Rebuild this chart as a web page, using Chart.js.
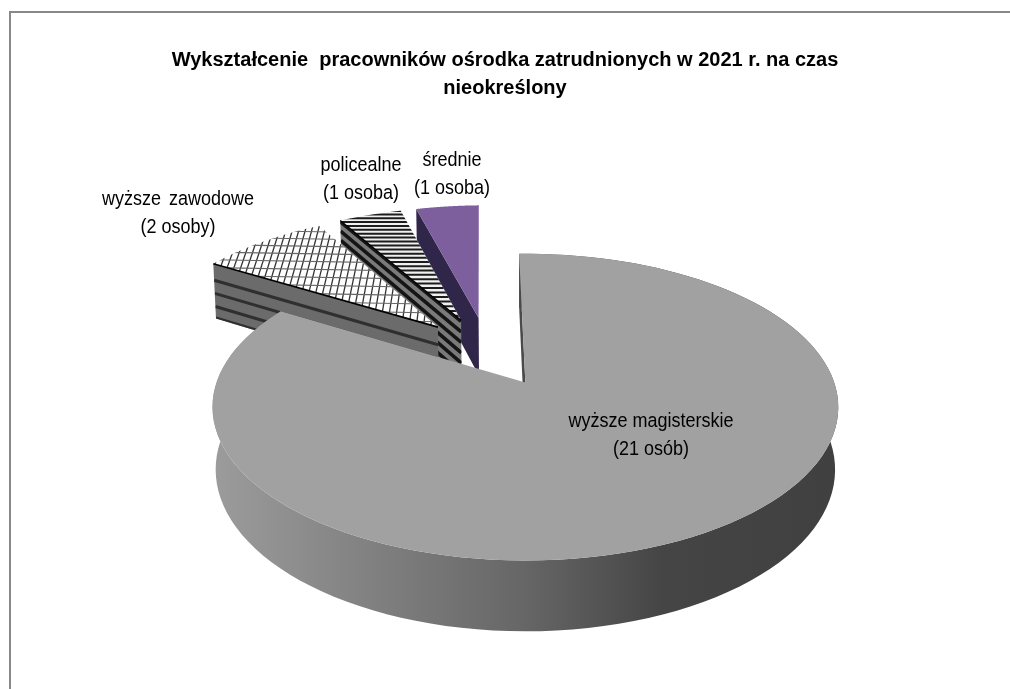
<!DOCTYPE html>
<html lang="pl">
<head>
<meta charset="utf-8">
<title>Wykształcenie pracowników</title>
<script src="https://cdn.jsdelivr.net/npm/chart.js@4/dist/chart.umd.min.js"></script>
<style>
  html, body { margin: 0; padding: 0; background: #fff; }
  canvas { display: block; }
</style>
</head>
<body>
<canvas id="wykres" width="1010" height="689"></canvas>
<script>
const kategorie = ["wyższe magisterskie", "wyższe zawodowe", "policealne", "średnie"];
const opisy = ["(21 osób)", "(2 osoby)", "(1 osoba)", "(1 osoba)"];
const liczbaOsob = [21, 2, 1, 1];
const tytul = [
  "Wykształcenie  pracowników ośrodka zatrudnionych w 2021 r. na czas",
  "nieokreślony",
];

// kolejnosc rysowania: od tylu do przodu
const kolejnosc = [3, 2, 1, 0];
// srodki podpisow na obrazku
const podpisyX = [651, 178, 361, 452];
const podpisyY = [421, 199, 165, 160];

// parametry rzutu 3D (talerz w perspektywie)
const X0 = 524, Y0 = 383, SKALA_X = 309, SKALA_Y = 149.6;
const PERSP = 0.16, ZWEZENIE = 0.01, GLEBOKOSC = 62;
const SRODEK_U = -0.121, SRODEK_V = 0.219, WYSUNIECIE = 0.25;

function rzut(u, v, d) {
  const pu = u + SRODEK_U;
  const pv = v + SRODEK_V;
  const w = 1 + PERSP * pv + ZWEZENIE * d;
  return { x: X0 + (SKALA_X * pu) / w, y: Y0 + (GLEBOKOSC * d - SKALA_Y * pv) / w };
}

function punkt(arc, kat, r, d) {
  const sr = (arc.startAngle + arc.endAngle) / 2;
  const u = WYSUNIECIE * Math.cos(sr) + r * Math.cos(kat);
  const v = -(WYSUNIECIE * Math.sin(sr) + r * Math.sin(kat));
  return rzut(u, v, d);
}

function sciezka(ctx, pkt) {
  ctx.beginPath();
  pkt.forEach((p, i) => (i ? ctx.lineTo(p.x, p.y) : ctx.moveTo(p.x, p.y)));
  ctx.closePath();
}

function lukPunkty(arc, d) {
  const pkt = [];
  const n = 120;
  for (let i = 0; i <= n; i++) {
    const kat = arc.startAngle + ((arc.endAngle - arc.startAngle) * i) / n;
    pkt.push(punkt(arc, kat, 1, d));
  }
  return pkt;
}

function kreska(ctx, a, b, kolor, grubosc) {
  ctx.strokeStyle = kolor;
  ctx.lineWidth = grubosc;
  ctx.beginPath();
  ctx.moveTo(a.x, a.y);
  ctx.lineTo(b.x, b.y);
  ctx.stroke();
}

// sciana od strony poczatku wycinka
function sciana(ctx, arc, kolor, paski, kolorPaska, grubosc) {
  const k = arc.startAngle;
  sciezka(ctx, [punkt(arc, k, 1, 0), punkt(arc, k, 0, 0), punkt(arc, k, 0, 1), punkt(arc, k, 1, 1)]);
  ctx.fillStyle = kolor;
  ctx.fill();
  ctx.save();
  ctx.clip();
  paski.forEach((f) => kreska(ctx, punkt(arc, k, 1, f), punkt(arc, k, 0, f), kolorPaska, grubosc));
  ctx.restore();
}

function wierzch(ctx, arc) {
  sciezka(ctx, [punkt(arc, arc.startAngle, 0, 0)].concat(lukPunkty(arc, 0)));
}

function rysujMagisterskie(ctx, arc) {
  const gora = lukPunkty(arc, 0);
  const dol = lukPunkty(arc, 1).reverse();
  const grad = ctx.createLinearGradient(212, 0, 838, 0);
  grad.addColorStop(0, "#9c9c9c");
  grad.addColorStop(0.5, "#666666");
  grad.addColorStop(0.72, "#454545");
  grad.addColorStop(1, "#404040");
  sciezka(ctx, gora.concat(dol));
  ctx.fillStyle = grad;
  ctx.fill();
  sciana(ctx, arc, "#4a4a4a", [], "#000", 0);
  wierzch(ctx, arc);
  ctx.fillStyle = "#a1a1a1";
  ctx.fill();
}

function rysujZawodowe(ctx, arc) {
  sciana(ctx, arc, "#6b6b6b", [0.3, 0.54, 0.78, 0.99], "#2f2f2f", 3);
  wierzch(ctx, arc);
  ctx.fillStyle = "#ffffff";
  ctx.fill();
  ctx.save();
  ctx.clip();
  for (let u = -1.6; u < 0.4; u += 0.025) {
    kreska(ctx, rzut(u, -0.6, 0), rzut(u, 1.6, 0), "#333333", 1.3);
  }
  for (let v = -0.6; v < 1.6; v += 0.068) {
    kreska(ctx, rzut(-1.6, v + 0.06, 0), rzut(0.4, v - 0.02, 0), "#666666", 1.1);
  }
  ctx.restore();
  kreska(ctx, punkt(arc, arc.startAngle, 1, 0), punkt(arc, arc.startAngle, 0, 0), "#000", 1.6);
}

function rysujPolicealne(ctx, arc) {
  sciana(ctx, arc, "#7a7a7a", [0.02, 0.2, 0.38, 0.56, 0.74, 0.92], "#151515", 3.6);
  wierzch(ctx, arc);
  ctx.fillStyle = "#f0f0f0";
  ctx.fill();
  ctx.save();
  ctx.clip();
  for (let v = -0.4; v < 1.6; v += 0.037) {
    kreska(ctx, rzut(-1.2, v, 0), rzut(0.4, v, 0), "#1c1c1c", 2);
  }
  ctx.restore();
  kreska(ctx, punkt(arc, arc.startAngle, 1, 0), punkt(arc, arc.startAngle, 0, 0), "#000", 1.4);
}

function rysujSrednie(ctx, arc) {
  sciana(ctx, arc, "#30264a", [], "#000", 0);
  wierzch(ctx, arc);
  ctx.fillStyle = "#7d5f9e";
  ctx.fill();
}

const rysowanie = [rysujMagisterskie, rysujZawodowe, rysujPolicealne, rysujSrednie];

function napis(ctx, tekst, x, y) {
  ctx.save();
  ctx.translate(x, y);
  ctx.scale(1, 1.15);
  ctx.fillText(tekst, 0, 0);
  ctx.restore();
}

const talerz3d = {
  id: "talerz3d",
  beforeDraw(chart) {
    const { ctx } = chart;
    ctx.save();
    ctx.fillStyle = "#888888";
    ctx.fillRect(9, 11, 1001, 2);
    ctx.fillRect(9, 11, 2, 678);
    ctx.restore();
  },
  beforeDatasetDraw(chart, args) {
    const { ctx } = chart;
    const luki = chart.getDatasetMeta(args.index).data;
    ctx.save();
    kolejnosc.forEach((i) => rysowanie[i](ctx, luki[i]));

    ctx.fillStyle = "#000";
    ctx.font = "18px 'Liberation Sans', Arial, sans-serif";
    ctx.textAlign = "center";
    ctx.textBaseline = "middle";
    kategorie.forEach((nazwa, i) => {
      ctx.wordSpacing = i === 1 ? "3px" : "0px";
      napis(ctx, nazwa, podpisyX[i], podpisyY[i]);
      ctx.wordSpacing = "0px";
      napis(ctx, opisy[i], podpisyX[i], podpisyY[i] + 28);
    });
    ctx.restore();
    return false;
  },
};

new Chart(document.getElementById("wykres"), {
  type: "pie",
  data: {
    labels: kategorie,
    datasets: [{ data: liczbaOsob, backgroundColor: ["#a1a1a1", "#ffffff", "#808080", "#7d5f9e"], borderWidth: 0 }],
  },
  options: {
    responsive: false,
    animation: false,
    rotation: -1.3,
    plugins: {
      legend: { display: false },
      tooltip: { enabled: false },
      title: {
        display: true,
        text: tytul,
        color: "#000",
        font: { family: "'Liberation Sans', Arial, sans-serif", size: 20, weight: "bold", lineHeight: 1.4 },
        padding: { top: 46, bottom: 10 },
      },
    },
  },
  plugins: [talerz3d],
});
</script>
</body>
</html>
